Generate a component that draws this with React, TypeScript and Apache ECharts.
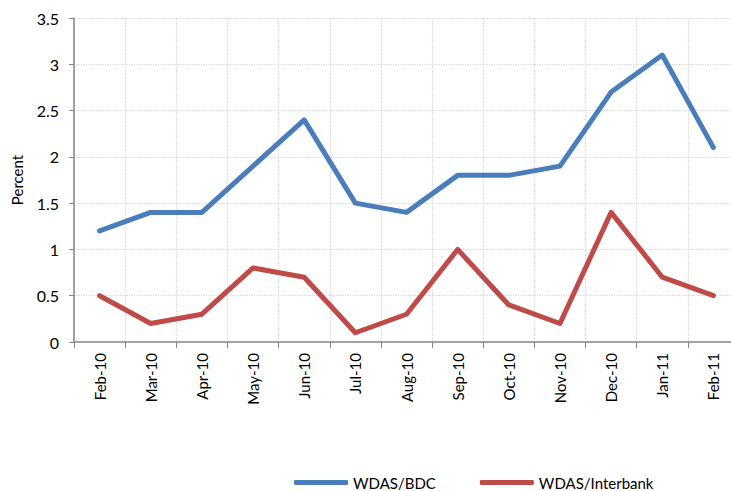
import React, { useEffect, useRef } from "react";
import * as echarts from "echarts";

const categories = ["Feb-10", "Mar-10", "Apr-10", "May-10", "Jun-10", "Jul-10", "Aug-10", "Sep-10", "Oct-10", "Nov-10", "Dec-10", "Jan-11", "Feb-11"];
const bdc = [1.2, 1.4, 1.4, 1.9, 2.4, 1.5, 1.4, 1.8, 1.8, 1.9, 2.7, 3.1, 2.1];
const interbank = [0.5, 0.2, 0.3, 0.8, 0.7, 0.1, 0.3, 1.0, 0.4, 0.2, 1.4, 0.7, 0.5];
const seriesNames = ["WDAS/BDC", "WDAS/Interbank"];

const FONT = "Lato, 'Open Sans', sans-serif";

export default function App() {
  const ref = useRef<HTMLDivElement>(null);
  useEffect(() => {
    if (!ref.current) return;
    const chart = echarts.init(ref.current, null, { renderer: "svg" });
    chart.setOption({
      animation: false,
      backgroundColor: "#ffffff",
      textStyle: { fontFamily: FONT },
      grid: { left: 74, top: 18, width: 665, height: 324, outerBoundsMode: "none", containLabel: false },
      legend: {
        data: seriesNames,
        left: 289,
        top: 470,
        icon: "roundRect",
        itemWidth: 54,
        itemHeight: 5,
        itemGap: 44,
        textStyle: { fontSize: 15, color: "#000", fontFamily: FONT },
      },
      xAxis: {
        type: "category",
        data: categories,
        boundaryGap: true,
        axisLine: { lineStyle: { color: "#868686", width: 1.5 } },
        axisTick: { show: true, length: 6, interval: 0, lineStyle: { color: "#868686" } },
        axisLabel: { rotate: 90, interval: 0, margin: 11, fontSize: 15, color: "#000", fontFamily: FONT },
        splitLine: { show: true, interval: 0, lineStyle: { color: "#d4d4d4", type: "dotted", width: 1.2 } },
      },
      yAxis: {
        type: "value",
        min: 0,
        max: 3.5,
        interval: 0.5,
        name: "Percent",
        nameLocation: "middle",
        nameGap: 50,
        nameRotate: 90,
        nameTextStyle: { fontSize: 15, color: "#000", fontFamily: FONT },
        axisLine: { show: true, lineStyle: { color: "#868686", width: 1.5 } },
        axisTick: { show: true, length: 5, lineStyle: { color: "#868686" } },
        axisLabel: { fontSize: 16, color: "#000", margin: 15, fontFamily: FONT },
        splitLine: { show: true, lineStyle: { color: "#d4d4d4", type: "dotted", width: 1.2 } },
      },
      series: [
        {
          name: seriesNames[0],
          type: "line",
          data: bdc,
          symbol: "none",
          color: "#4a7ebb",
          lineStyle: { width: 5, color: "#4a7ebb", join: "round", cap: "round" },
        },
        {
          name: seriesNames[1],
          type: "line",
          data: interbank,
          symbol: "none",
          color: "#be4b48",
          lineStyle: { width: 5, color: "#be4b48", join: "round", cap: "round" },
        },
      ],
    });
    return () => chart.dispose();
  }, []);
  return <div ref={ref} style={{ position: "absolute", left: 0, top: 0, width: 731, height: 491 }} />;
}
